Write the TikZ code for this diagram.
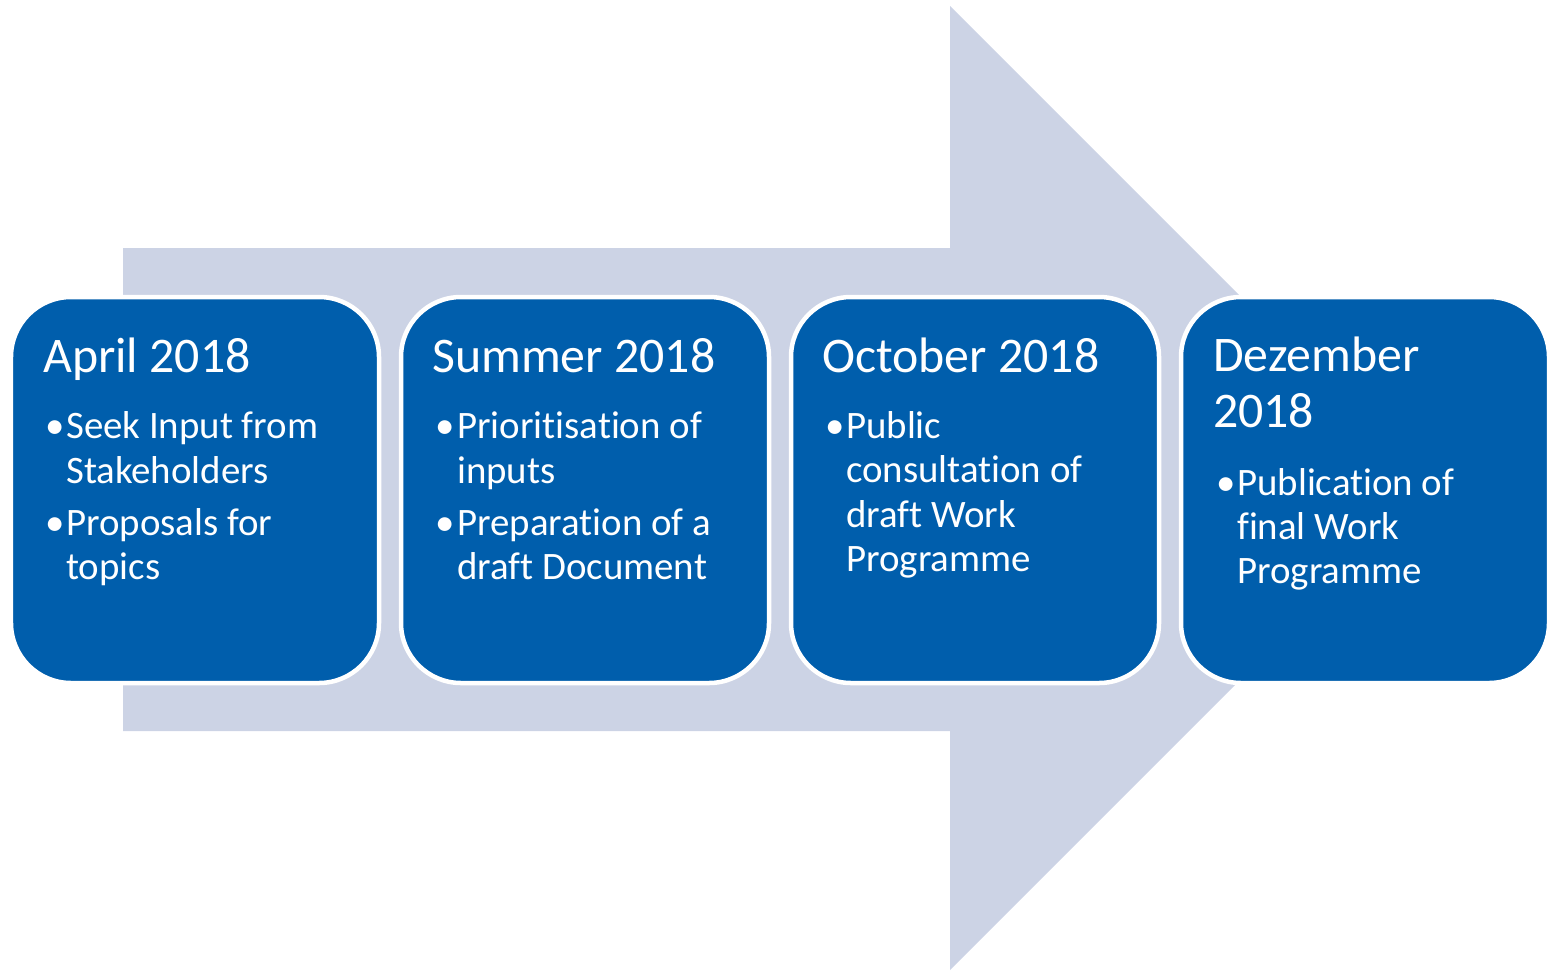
\documentclass[tikz,border=0pt]{standalone}
\usepackage{fontspec}
\setmainfont{Carlito}[RawFeature=-liga]
\definecolor{boxblue}{RGB}{0,94,172}
\definecolor{arrowgray}{RGB}{204,211,229}
\begin{document}
\begin{tikzpicture}[x=1bp,y=-1bp,
  card/.style={rectangle, rounded corners=60bp, fill=boxblue, draw=white, line width=4.5bp,
    minimum width=368bp, minimum height=386bp, inner sep=0pt},
  titletext/.style={anchor=base west, text=white, inner sep=0pt, font=\fontsize{50}{56}\selectfont},
  itemtext/.style={anchor=base west, text=white, inner sep=0pt, font=\fontsize{39}{45}\selectfont}]
\useasboundingbox (0,0) rectangle (1554,971);
% big arrow
\fill[arrowgray] (123,248) -- (950,248) -- (950,6) -- (1432,488) -- (950,970) -- (950,731) -- (123,731) -- cycle;
% cards
\node[card] (b1) at (195,490) {};
\node[card] (b2) at (585,490) {};
\node[card] (b3) at (975,490) {};
\node[card] (b4) at (1365,490) {};
% card 1
\node[titletext] (t1) at (43,372) {April 2018};
\node[itemtext] (d1a) at (45,438) {•};
\node[itemtext] (t1a) at (66,438) {Seek Input from};
\node[itemtext] (t1b) at (66,483) {Stakeholders};
\node[itemtext] (d1b) at (45,535) {•};
\node[itemtext] (t1c) at (66,535) {Proposals for};
\node[itemtext] (t1d) at (66,579) {topics};
% card 2
\node[titletext] (t2) at (432,372) {Summer 2018};
\node[itemtext] (d2a) at (435,438) {•};
\node[itemtext] (t2a) at (457,438) {Prioritisation of};
\node[itemtext] (t2b) at (457,483) {inputs};
\node[itemtext] (d2b) at (435,535) {•};
\node[itemtext] (t2c) at (457,535) {Preparation of a};
\node[itemtext] (t2d) at (457,579) {draft Document};
% card 3
\node[titletext] (t3) at (822,372) {October 2018};
\node[itemtext] (d3a) at (825,438) {•};
\node[itemtext] (t3a) at (846,438) {Public};
\node[itemtext] (t3b) at (846,482) {consultation of};
\node[itemtext] (t3c) at (846,527) {draft Work};
\node[itemtext] (t3d) at (846,571) {Programme};
% card 4
\node[titletext] (t4) at (1213,371) {Dezember};
\node[titletext] (t4b) at (1213,427) {2018};
\node[itemtext] (d4a) at (1216,495) {•};
\node[itemtext] (t4c) at (1237,495) {Publication of};
\node[itemtext] (t4d) at (1237,539) {final Work};
\node[itemtext] (t4e) at (1237,583) {Programme};
\end{tikzpicture}
\end{document}
